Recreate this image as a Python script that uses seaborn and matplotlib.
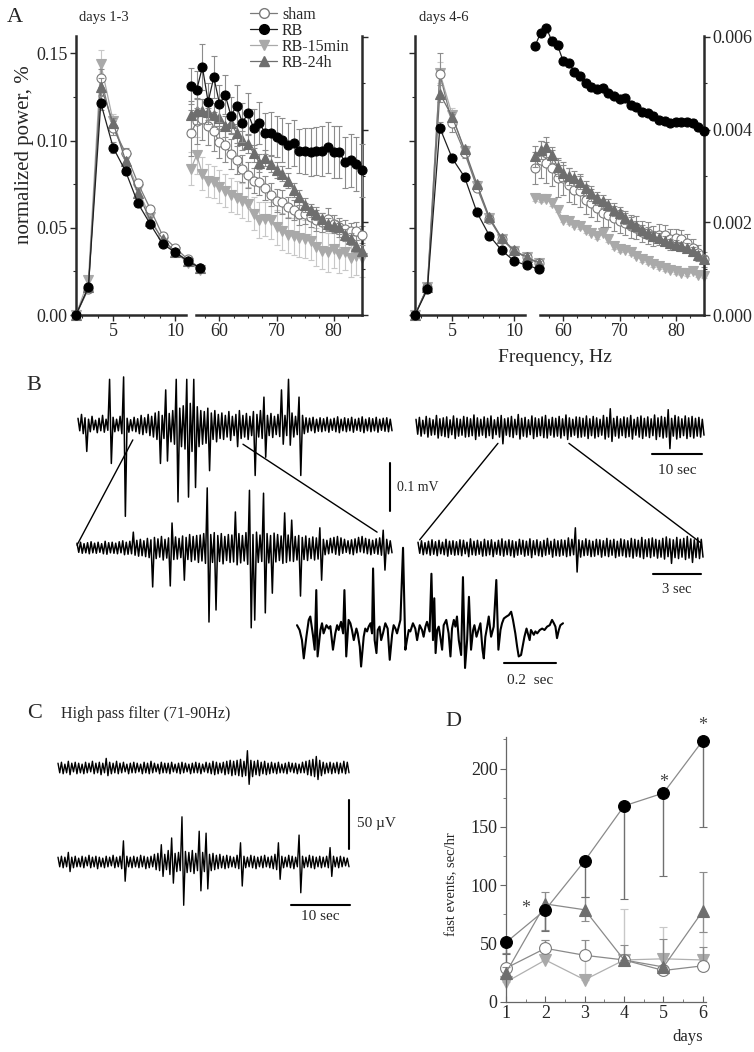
import numpy as np
import matplotlib.pyplot as plt
import seaborn as sns
from matplotlib.lines import Line2D
from matplotlib.patches import ConnectionPatch
from matplotlib.ticker import FixedLocator, MultipleLocator, FormatStrFormatter

# ---- data -------------------------------------------------------------
freq_lo = [2, 3, 4, 5, 6, 7, 8, 9, 10, 11, 12]
freq_hi = list(range(55, 86))

# days 1-3, low frequencies (left axis)
d13_lo_sham = [0.000, 0.015, 0.136, 0.107, 0.093, 0.0755, 0.0607, 0.0453, 0.0386, 0.032, 0.027]
d13_lo_rb = [0.000, 0.016, 0.1216, 0.096, 0.0824, 0.064, 0.052, 0.0406, 0.036, 0.031, 0.027]
d13_lo_rb15 = [0.000, 0.020, 0.144, 0.111, 0.090, 0.072, 0.056, 0.042, 0.036, 0.030, 0.026]
d13_lo_rb24 = [0.000, 0.016, 0.131, 0.110, 0.0886, 0.070, 0.054, 0.0434, 0.0363, 0.031, 0.027]
d13_lo_err_sham = [0, 0.002, 0.005, 0.004, 0.003, 0.002, 0.002, 0.002, 0.001, 0.001, 0.001]
d13_lo_err_rb = [0, 0.002, 0.004, 0.003, 0.002, 0.002, 0.002, 0.001, 0.001, 0.001, 0.001]
d13_lo_err_rb15 = [0, 0.002, 0.008, 0.004, 0.003, 0.002, 0.002, 0.002, 0.001, 0.001, 0.001]
d13_lo_err_rb24 = [0, 0.002, 0.005, 0.003, 0.002, 0.002, 0.002, 0.001, 0.001, 0.001, 0.001]

# days 1-3, high frequencies (right axis)
d13_hi_sham = [0.00392, 0.00418, 0.00422, 0.00407, 0.00396, 0.00373, 0.00366, 0.00347, 0.00334, 0.00316,
               0.00302, 0.00290, 0.00287, 0.00275, 0.00260, 0.00247, 0.00244, 0.00232, 0.00226, 0.00219,
               0.00219, 0.00211, 0.00204, 0.00200, 0.00207, 0.00196, 0.00189, 0.00185, 0.00181, 0.00181, 0.00173]
d13_hi_rb = [0.00494, 0.00486, 0.00535, 0.00460, 0.00513, 0.00456, 0.00475, 0.00430, 0.00452, 0.00415,
             0.00435, 0.00403, 0.00415, 0.00392, 0.00392, 0.00385, 0.00377, 0.00366, 0.00371, 0.00354,
             0.00354, 0.00352, 0.00354, 0.00354, 0.00362, 0.00352, 0.00352, 0.00330, 0.00334, 0.00325, 0.00312]
d13_hi_rb15 = [0.00316, 0.00345, 0.00305, 0.00290, 0.00287, 0.00277, 0.00268, 0.00259, 0.00253, 0.00247,
               0.00240, 0.00219, 0.00205, 0.00207, 0.00204, 0.00189, 0.00181, 0.00173, 0.00170, 0.00166,
               0.00164, 0.00160, 0.00146, 0.00139, 0.00135, 0.00142, 0.00132, 0.00137, 0.00124, 0.00128, 0.00122]
d13_hi_rb24 = [0.00432, 0.00441, 0.00441, 0.00437, 0.00432, 0.00426, 0.00407, 0.00415, 0.00392, 0.00377,
               0.00369, 0.00349, 0.00328, 0.00339, 0.00326, 0.00313, 0.00305, 0.00290, 0.00270, 0.00254,
               0.00238, 0.00226, 0.00219, 0.00207, 0.00196, 0.00192, 0.00189, 0.00173, 0.00164, 0.00149, 0.00139]
d13_hi_err_sham = [0.00050, 0.00048, 0.00045, 0.00040, 0.00042, 0.00035, 0.00036, 0.00033, 0.00030, 0.00030,
                   0.00028, 0.00027, 0.00028, 0.00026, 0.00025, 0.00024, 0.00025, 0.00023, 0.00022, 0.00024,
                   0.00022, 0.00021, 0.00022, 0.00020, 0.00024, 0.00020, 0.00020, 0.00019, 0.00018, 0.00019, 0.00018]
d13_hi_err_rb = [0.00038, 0.00040, 0.00050, 0.00040, 0.00045, 0.00040, 0.00042, 0.00040, 0.00045, 0.00042,
                 0.00045, 0.00042, 0.00045, 0.00044, 0.00046, 0.00045, 0.00047, 0.00048, 0.00050, 0.00048,
                 0.00050, 0.00052, 0.00052, 0.00054, 0.00055, 0.00056, 0.00056, 0.00055, 0.00057, 0.00058, 0.00058]
d13_hi_err_rb15 = [0.00036, 0.00040, 0.00035, 0.00036, 0.00034, 0.00035, 0.00036, 0.00037, 0.00036, 0.00038,
                   0.00037, 0.00036, 0.00038, 0.00037, 0.00039, 0.00038, 0.00040, 0.00039, 0.00040, 0.00041,
                   0.00040, 0.00042, 0.00041, 0.00040, 0.00042, 0.00041, 0.00042, 0.00040, 0.00041, 0.00042, 0.00040]
d13_hi_err_rb24 = [0.00030, 0.00028, 0.00026, 0.00025, 0.00025, 0.00024, 0.00022, 0.00023, 0.00021, 0.00020,
                   0.00020, 0.00018, 0.00019, 0.00017, 0.00018, 0.00017, 0.00016, 0.00016, 0.00015, 0.00016,
                   0.00015, 0.00014, 0.00015, 0.00014, 0.00014, 0.00013, 0.00014, 0.00013, 0.00013, 0.00012, 0.00012]

# days 4-6, low frequencies
d46_lo_sham = [0.000, 0.016, 0.138, 0.110, 0.093, 0.073, 0.055, 0.0435, 0.0366, 0.033, 0.0297]
d46_lo_rb = [0.000, 0.0147, 0.1074, 0.0899, 0.0791, 0.0588, 0.0455, 0.037, 0.031, 0.0285, 0.0264]
d46_lo_rb15 = [0.000, 0.016, 0.139, 0.1147, 0.094, 0.074, 0.0555, 0.0437, 0.0368, 0.033, 0.0297]
d46_lo_rb24 = [0.000, 0.016, 0.127, 0.1137, 0.095, 0.075, 0.056, 0.044, 0.037, 0.0332, 0.0298]
d46_lo_err_sham = [0, 0.002, 0.012, 0.005, 0.003, 0.002, 0.002, 0.002, 0.001, 0.001, 0.001]
d46_lo_err_rb = [0, 0.001, 0.003, 0.002, 0.002, 0.001, 0.001, 0.001, 0.001, 0.001, 0.001]
d46_lo_err_rb15 = [0, 0.002, 0.006, 0.004, 0.003, 0.002, 0.002, 0.001, 0.001, 0.001, 0.001]
d46_lo_err_rb24 = [0, 0.002, 0.005, 0.003, 0.002, 0.002, 0.001, 0.001, 0.001, 0.001, 0.001]

# days 4-6, high frequencies
d46_hi_sham = [0.00317, 0.00335, 0.00329, 0.00317, 0.00295, 0.00295, 0.00281, 0.00270, 0.00267, 0.00249,
               0.00241, 0.00231, 0.00220, 0.00216, 0.00209, 0.00202, 0.00198, 0.00191, 0.00188, 0.00180,
               0.00177, 0.00170, 0.00173, 0.00173, 0.00163, 0.00166, 0.00163, 0.00155, 0.00145, 0.00134, 0.00120]
d46_hi_rb = [0.00580, 0.00609, 0.00620, 0.00591, 0.00582, 0.00548, 0.00543, 0.00525, 0.00515, 0.00500,
             0.00492, 0.00487, 0.00489, 0.00478, 0.00472, 0.00467, 0.00469, 0.00453, 0.00449, 0.00439,
             0.00435, 0.00429, 0.00421, 0.00419, 0.00414, 0.00417, 0.00417, 0.00417, 0.00414, 0.00405, 0.00396]
d46_hi_rb15 = [0.00252, 0.00250, 0.00250, 0.00241, 0.00227, 0.00206, 0.00202, 0.00195, 0.00191, 0.00184,
               0.00177, 0.00170, 0.00177, 0.00163, 0.00148, 0.00143, 0.00141, 0.00135, 0.00127, 0.00120,
               0.00116, 0.00109, 0.00105, 0.00102, 0.00098, 0.00095, 0.00091, 0.00091, 0.00095, 0.00087, 0.00084]
d46_hi_rb24 = [0.00342, 0.00356, 0.00363, 0.00345, 0.00320, 0.00306, 0.00299, 0.00295, 0.00288, 0.00274,
               0.00263, 0.00252, 0.00245, 0.00238, 0.00227, 0.00220, 0.00209, 0.00198, 0.00191, 0.00184,
               0.00177, 0.00170, 0.00166, 0.00159, 0.00155, 0.00152, 0.00148, 0.00145, 0.00138, 0.00130, 0.00120]
d46_hi_err_sham = [0.00035, 0.00040, 0.00045, 0.00038, 0.00040, 0.00035, 0.00037, 0.00030, 0.00034, 0.00032,
                   0.00030, 0.00028, 0.00030, 0.00026, 0.00027, 0.00025, 0.00026, 0.00024, 0.00025, 0.00023,
                   0.00024, 0.00022, 0.00023, 0.00021, 0.00022, 0.00020, 0.00020, 0.00019, 0.00018, 0.00017, 0.00016]
d46_hi_err_rb = [0.00006, 0.00007, 0.00006, 0.00009, 0.00008, 0.00007, 0.00008, 0.00007, 0.00008, 0.00007,
                 0.00008, 0.00007, 0.00008, 0.00008, 0.00007, 0.00008, 0.00007, 0.00008, 0.00007, 0.00008,
                 0.00007, 0.00008, 0.00007, 0.00008, 0.00007, 0.00008, 0.00008, 0.00007, 0.00008, 0.00007, 0.00007]
d46_hi_err_rb15 = [0.00005, 0.00006, 0.00005, 0.00006, 0.00005, 0.00006, 0.00005, 0.00006, 0.00005, 0.00006,
                   0.00005, 0.00006, 0.00005, 0.00006, 0.00005, 0.00006, 0.00005, 0.00006, 0.00005, 0.00006,
                   0.00005, 0.00006, 0.00005, 0.00006, 0.00005, 0.00006, 0.00005, 0.00006, 0.00005, 0.00006, 0.00005]
d46_hi_err_rb24 = [0.00022, 0.00020, 0.00022, 0.00018, 0.00019, 0.00017, 0.00018, 0.00016, 0.00017, 0.00015,
                   0.00016, 0.00014, 0.00015, 0.00013, 0.00014, 0.00013, 0.00012, 0.00013, 0.00012, 0.00011,
                   0.00012, 0.00011, 0.00010, 0.00011, 0.00010, 0.00010, 0.00009, 0.00010, 0.00009, 0.00009, 0.00008]

# panel D: fast events, sec/hr
days = [1, 2, 3, 4, 5, 6]
fe_sham = [29, 46, 40, 36, 27, 31]
fe_rb = [51, 79, 121, 168, 179, 224]
fe_rb15 = [17, 36, 19, 36, 37, 36]
fe_rb24 = [25, 84, 79, 36, 30, 78]
fe_err_sham = [[0, 0, 0, 0, 0, 0], [13, 7, 13, 4, 4, 16]]
fe_err_rb = [[10, 18, 31, 80, 71, 74], [0, 0, 0, 0, 0, 0]]
fe_err_rb15 = [[0, 0, 0, 0, 0, 0], [6, 17, 20, 44, 27, 24]]
fe_err_rb24 = [[5, 22, 10, 0, 0, 18], [5, 10, 11, 13, 24, 33]]
stars = [(1.5, 80), (5, 188), (6, 237)]

# EEG traces, µV: upper / lower excursions of consecutive samples
b_top_left_hi = [14, 22, 15, 12, 18, 10, 14, 20, 12, 95, 16, 12, 18, 100, 14, 11, 16, 13, 20, 15,
                 22, 18, 25, 28, 20, 73, 24, 30, 95, 35, 40, 95, 45, 95, 38, 30, 28, 35, 25, 30,
                 22, 25, 20, 28, 18, 22, 30, 20, 24, 18, 28, 22, 30, 58, 20, 24, 18, 22, 73, 20,
                 95, 25, 18, 58, 20, 15, 14, 16, 12, 15, 13, 16, 12, 14, 17, 12, 15, 13, 16, 12,
                 14, 17, 12, 15, 13, 16, 12, 14, 15, 12]
b_top_left_lo = [-12, -18, -55, -14, -10, -16, -12, -15, -11, -80, -14, -12, -18, -190, -15, -12, -14, -18, -20, -16,
                 -22, -25, -30, -80, -28, -75, -35, -40, -160, -45, -50, -150, -55, -130, -45, -40, -38, -95, -30, -35,
                 -28, -30, -25, -32, -22, -45, -28, -25, -30, -22, -105, -25, -28, -67, -22, -26, -20, -24, -40, -22,
                 -42, -25, -20, -105, -18, -15, -12, -16, -13, -14, -12, -15, -11, -14, -16, -12, -14, -12, -15, -11,
                 -13, -16, -12, -14, -12, -15, -11, -13, -14, -12]
b_top_right_hi = [16, 20, 14, 22, 18, 15, 24, 17, 19, 21, 15, 23, 18, 16, 22, 20, 17, 25, 19, 16,
                  21, 18, 23, 15, 20, 24, 17, 19, 22, 16, 26, 18, 20, 15, 23, 19, 17, 21, 24, 16,
                  20, 18, 22, 17, 25, 19, 16, 21, 20, 18, 23, 17, 22, 19, 16, 24, 20, 38, 18, 22,
                  17, 21, 19, 24, 16, 20, 23, 18, 21, 17, 25, 19, 22, 20, 36, 18, 24, 21, 17, 23,
                  19, 22, 18, 20, 16]
b_top_right_lo = [-15, -19, -14, -21, -17, -16, -23, -18, -20, -22, -16, -24, -19, -17, -21, -20, -18, -26, -19, -17,
                  -22, -18, -24, -16, -21, -35, -17, -20, -22, -16, -25, -19, -21, -16, -24, -20, -18, -22, -23, -17,
                  -21, -19, -23, -18, -26, -20, -17, -22, -21, -19, -24, -18, -23, -20, -17, -25, -21, -30, -19, -23,
                  -18, -22, -20, -25, -17, -21, -24, -19, -22, -18, -26, -20, -23, -21, -45, -19, -25, -22, -18, -24,
                  -20, -23, -19, -21, -17]
b_mid_left_hi = [10, 12, 9, 11, 13, 10, 12, 9, 14, 11, 12, 10, 13, 15, 12, 14, 33, 16, 18, 15,
                 20, 17, 22, 19, 24, 18, 21, 52, 23, 20, 25, 22, 28, 24, 26, 27, 30, 125, 28, 32,
                 26, 30, 24, 28, 27, 75, 30, 26, 32, 120, 28, 33, 27, 114, 30, 26, 31, 28, 25, 73,
                 27, 58, 24, 26, 22, 25, 20, 23, 21, 42, 18, 16, 20, 22, 24, 21, 18, 15, 17, 19,
                 22, 24, 20, 18, 16, 19, 21, 37, 18, 15]
b_mid_left_lo = [-9, -11, -10, -12, -10, -11, -9, -12, -13, -10, -11, -12, -10, -14, -13, -12, -15, -17, -16, -18,
                 -20, -81, -22, -19, -25, -21, -79, -24, -23, -20, -67, -24, -28, -25, -30, -27, -32, -154, -30, -129,
                 -28, -33, -26, -30, -29, -35, -31, -27, -34, -166, -150, -30, -28, -135, -31, -94, -29, -26, -32, -30,
                 -27, -28, -25, -100, -24, -26, -22, -25, -23, -67, -14, -12, -10, -13, -15, -11, -9, -12, -14, -10,
                 -8, -10, -12, -14, -11, -13, -15, -46, -12, -10]
b_mid_right_hi = [12, 15, 11, 14, 17, 13, 16, 12, 18, 14, 15, 13, 17, 16, 12, 19, 14, 16, 13, 18,
                  15, 17, 12, 16, 19, 14, 17, 15, 13, 18, 16, 14, 19, 15, 17, 13, 16, 20, 14, 18,
                  15, 17, 16, 21, 18, 42, 17, 15, 19, 16, 14, 18, 17, 15, 20, 16, 18, 14, 19, 17,
                  15, 20, 18, 16, 22, 17, 19, 21, 18, 16, 20, 23, 19, 17, 22, 18, 20, 24, 19, 17, 21, 18]
b_mid_right_lo = [-11, -14, -12, -15, -13, -16, -12, -14, -17, -13, -15, -14, -16, -12, -18, -14, -15, -13, -17, -16,
                  -14, -18, -13, -15, -17, -14, -16, -19, -15, -13, -17, -15, -20, -14, -16, -18, -15, -13, -19, -16,
                  -17, -15, -18, -16, -14, -50, -19, -16, -15, -18, -17, -14, -19, -16, -18, -15, -20, -17, -16, -19,
                  -18, -21, -17, -19, -22, -18, -20, -17, -21, -19, -23, -18, -32, -20, -22, -19, -24, -21, -30, -20, -22, -19]

# expanded burst (ms, µV)
burst_t = [0, 10, 19, 26, 36, 45, 51, 61, 68, 74, 79, 90, 96, 102, 113, 122, 128, 138, 147, 154,
           160, 169, 177, 182, 189, 198, 205, 211, 218, 228, 233, 241, 246, 256, 262, 269, 275, 282, 288, 292,
           298, 305, 310, 317, 323, 330, 339, 348, 356, 365, 371, 378, 384, 397, 407, 416, 422, 429, 435, 445,
           454, 461, 471, 480, 486, 493, 499, 509, 516, 522, 527, 532, 538, 544, 550, 557, 563, 573, 582, 589,
           595, 602, 608, 614, 621, 630, 637, 645, 653, 660, 668, 676, 681, 689, 698, 704, 712, 717, 723, 730,
           736, 745, 755, 765, 773, 781, 787, 794, 804, 813, 822, 829, 838, 845, 851, 860, 868, 873, 881, 886,
           893, 898, 909, 915, 922, 932, 941, 950, 960, 970, 979, 986, 992, 998, 1005, 1011, 1021]
burst_v = [10, 0, -21, -59, -14, 21, 28, -10, -41, 83, -55, 0, 14, -7, 10, 3, 8, -41, -7, 10,
           0, 17, -7, 83, -55, 21, 14, 0, -21, 3, -7, -35, -76, -14, 3, -3, 7, 14, -7, 128,
           -21, -48, 0, 7, -21, -7, 14, 3, -62, -10, 10, 3, -7, 21, 171, -41, -21, 0, -3, 14,
           3, -21, 10, 0, -14, 7, 17, -3, 117, -21, 66, -48, 0, 7, -14, -41, 10, 21, -7, -55,
           3, 21, 7, 28, -21, -52, 110, -79, -21, 69, -41, 0, 10, -14, 3, 14, -41, -59, -14, 7,
           28, -14, 7, 104, -41, 0, 14, 24, 28, 31, 38, 21, -7, -35, -55, -52, -28, -14, 3, -7,
           -21, 0, -10, -3, -7, 0, 3, 0, 7, 10, 21, 14, 7, -17, 0, 10, 14]

c_top_hi = [5, 6, 4, 7, 5, 6, 5, 4, 6, 5, 7, 5, 6, 5, 10, 6, 5, 7, 5, 6,
            4, 5, 6, 5, 4, 6, 5, 7, 5, 4, 6, 5, 5, 6, 4, 5, 6, 5, 4, 5,
            6, 5, 4, 6, 5, 7, 6, 5, 6, 7, 8, 7, 8, 9, 7, 18, 8, 7, 8, 6,
            7, 5, 6, 5, 6, 4, 5, 6, 5, 5, 4, 6, 7, 8, 9, 12, 8, 6, 5, 6,
            5, 6, 5, 7, 6]
c_top_lo = [-5, -6, -5, -7, -4, -6, -5, -6, -5, -4, -6, -5, -7, -5, -8, -6, -5, -6, -5, -4,
            -6, -5, -5, -4, -6, -5, -6, -5, -4, -6, -5, -5, -6, -4, -5, -6, -5, -4, -6, -5,
            -5, -6, -4, -5, -6, -7, -6, -5, -7, -6, -8, -7, -8, -9, -8, -17, -9, -7, -8, -6,
            -7, -6, -5, -6, -5, -5, -6, -4, -5, -6, -5, -5, -7, -8, -9, -12, -8, -6, -5, -6,
            -5, -6, -5, -6, -5]
c_bot_hi = [5, 6, 5, 10, 5, 6, 4, 6, 5, 7, 5, 6, 5, 4, 6, 5, 7, 5, 6, 22,
            6, 5, 6, 5, 7, 6, 5, 6, 8, 9, 18, 8, 12, 25, 9, 10, 47, 11, 10, 12,
            9, 32, 10, 30, 8, 9, 7, 8, 6, 7, 6, 5, 7, 20, 6, 5, 7, 6, 5, 6,
            7, 5, 6, 8, 20, 6, 5, 7, 6, 5, 28, 6, 5, 7, 6, 5, 6, 5, 6, 15,
            6, 5, 6, 5, 4]
c_bot_lo = [-5, -6, -5, -10, -6, -5, -5, -6, -4, -6, -5, -7, -5, -6, -5, -4, -6, -5, -7, -20,
            -5, -6, -5, -6, -5, -7, -6, -5, -8, -9, -15, -8, -13, -22, -10, -9, -45, -11, -10, -12,
            -9, -30, -10, -28, -9, -8, -7, -6, -7, -6, -5, -6, -7, -25, -6, -5, -6, -7, -5, -6,
            -5, -6, -7, -8, -18, -6, -5, -6, -7, -5, -32, -6, -5, -6, -7, -5, -6, -5, -6, -15,
            -5, -6, -5, -4, -5]

# ---- style ------------------------------------------------------------
sns.set_style("ticks")
plt.rcParams['font.family'] = ['Liberation Serif', 'DejaVu Serif']

W, H = 754, 1052
fig = plt.figure(figsize=(W / 100, H / 100), dpi=100)


def box(x0, y0, x1, y1):
    return [x0 / W, 1 - y1 / H, (x1 - x0) / W, (y1 - y0) / H]


def ftext(x, y, s, **kw):
    kw.setdefault('ha', 'center')
    kw.setdefault('va', 'center')
    fig.text(x / W, 1 - y / H, s, **kw)


styles = {
    'sham': dict(marker='o', face='white', edge='#7a7a7a', line='#7a7a7a', ecolor='#8c8c8c', z=3),
    'RB': dict(marker='o', face='black', edge='black', line='#202020', ecolor='#8c8c8c', z=5),
    'RB-15min': dict(marker='v', face='#a9a9a9', edge='#a9a9a9', line='#a9a9a9', ecolor='#c8c8c8', z=2),
    'RB-24h': dict(marker='^', face='#6e6e6e', edge='#6e6e6e', line='#6e6e6e', ecolor='#8c8c8c', z=4),
}


def draw_series(ax, x, y, err, key, ms=6.5, lw=0.9):
    st = styles[key]
    ax.errorbar(x, y, yerr=err, fmt='none', ecolor=st['ecolor'], elinewidth=0.8,
                capsize=2.5, capthick=0.8, zorder=st['z'] - 0.5, clip_on=False)
    sns.lineplot(x=x, y=y, ax=ax, estimator=None, sort=False, color=st['line'], linewidth=lw,
                 marker=st['marker'], markersize=ms, markerfacecolor=st['face'],
                 markeredgecolor=st['edge'], markeredgewidth=0.8, clip_on=False, zorder=st['z'])


def style_a(ax, side):
    ax.set_facecolor('none')
    for s in ['top', 'left', 'right']:
        ax.spines[s].set_visible(False)
    ax.spines[side].set_visible(True)
    for s in ['bottom', side]:
        ax.spines[s].set_linewidth(1.8)
        ax.spines[s].set_color('#2a2a2a')
    ax.tick_params(which='major', length=4, width=1, labelsize=13, color='#2a2a2a', pad=2)
    ax.tick_params(which='minor', length=2.5, width=0.8, color='#2a2a2a')
    ax.set_xlabel('')
    ax.set_ylabel('')


# ---- panel A ----------------------------------------------------------
panels = [
    (76, 191, 362, True,
     [d13_lo_rb15, d13_lo_sham, d13_lo_rb24, d13_lo_rb],
     [d13_lo_err_rb15, d13_lo_err_sham, d13_lo_err_rb24, d13_lo_err_rb],
     [d13_hi_rb15, d13_hi_sham, d13_hi_rb24, d13_hi_rb],
     [d13_hi_err_rb15, d13_hi_err_sham, d13_hi_err_rb24, d13_hi_err_rb]),
    (415, 535, 704, False,
     [d46_lo_rb15, d46_lo_sham, d46_lo_rb24, d46_lo_rb],
     [d46_lo_err_rb15, d46_lo_err_sham, d46_lo_err_rb24, d46_lo_err_rb],
     [d46_hi_rb15, d46_hi_sham, d46_hi_rb24, d46_hi_rb],
     [d46_hi_err_rb15, d46_hi_err_sham, d46_hi_err_rb24, d46_hi_err_rb]),
]
order = ['RB-15min', 'sham', 'RB-24h', 'RB']

for x0, xh, x1, left_labels, lo_vals, lo_errs, hi_vals, hi_errs in panels:
    ax_lo = fig.add_axes(box(x0, 36, x0 + 124, 315))
    ax_hi = fig.add_axes(box(xh, 36, x1, 315))
    for key, v, e in zip(order, lo_vals, lo_errs):
        draw_series(ax_lo, freq_lo, v, e, key)
    for key, v, e in zip(order, hi_vals, hi_errs):
        draw_series(ax_hi, freq_hi, v, e, key)

    ax_lo.set_xlim(2, 12)
    ax_lo.set_ylim(0, 0.16)
    style_a(ax_lo, 'left')
    ax_lo.spines['bottom'].set_bounds(2, 10.9)
    ax_lo.xaxis.set_major_locator(FixedLocator([5, 10]))
    ax_lo.xaxis.set_minor_locator(FixedLocator([2.5, 3.75, 6.25, 7.5, 8.75]))
    ax_lo.yaxis.set_major_locator(MultipleLocator(0.05))
    ax_lo.yaxis.set_minor_locator(MultipleLocator(0.025))
    ax_lo.yaxis.set_major_formatter(FormatStrFormatter('%.2f'))
    if not left_labels:
        ax_lo.tick_params(axis='y', labelleft=False)

    ax_hi.set_xlim(55, 85)
    ax_hi.set_ylim(0, 0.00602)
    style_a(ax_hi, 'right')
    ax_hi.spines['bottom'].set_bounds(55.8, 85)
    ax_hi.yaxis.tick_right()
    ax_hi.xaxis.set_major_locator(FixedLocator([60, 70, 80]))
    ax_hi.xaxis.set_minor_locator(FixedLocator([57.5, 62.5, 65, 67.5, 72.5, 75, 77.5, 82.5]))
    ax_hi.yaxis.set_major_locator(MultipleLocator(0.002))
    ax_hi.yaxis.set_minor_locator(MultipleLocator(0.001))
    ax_hi.yaxis.set_major_formatter(FormatStrFormatter('%.3f'))
    if left_labels:
        ax_hi.tick_params(axis='y', labelright=False)

ftext(15, 17, 'A', fontsize=16)
ftext(79, 18, 'days 1-3', fontsize=10.5, ha='left')
ftext(419, 18, 'days 4-6', fontsize=10.5, ha='left')
ftext(25, 155, 'normalized power, %', fontsize=15, rotation=90)
ftext(555, 358, 'Frequency, Hz', fontsize=14)

handles = [Line2D([], [], color=styles[k]['line'], lw=0.9, marker=styles[k]['marker'], markersize=7,
                  markerfacecolor=styles[k]['face'], markeredgecolor=styles[k]['edge'])
           for k in ['sham', 'RB', 'RB-15min', 'RB-24h']]
fig.legend(handles, ['sham', 'RB', 'RB-15min', 'RB-24h'], loc='upper left',
           bbox_to_anchor=(250 / W, 1 - 7 / H), frameon=False, fontsize=11.5,
           handlelength=1.7, handletextpad=0.3, labelspacing=0.0, borderpad=0, borderaxespad=0)


# ---- panels B and C: traces -------------------------------------------
def trace_ax(x0, x1, yc, t_end, uv_px, hi=None, lo=None, t=None, v=None, lw=1.1):
    ax = fig.add_axes(box(x0, yc - 50, x1, yc + 50))
    if hi is not None:
        v = [a for pair in zip(hi, lo) for a in pair]
        t = np.linspace(0, t_end, len(v))
    sns.lineplot(x=t, y=v, ax=ax, estimator=None, sort=False, color='black',
                 linewidth=lw, clip_on=False)
    ax.set_xlim(0, t_end)
    ax.set_ylim(-50 * uv_px, 50 * uv_px)
    ax.axis('off')
    return ax


ax_b1 = trace_ax(78, 392, 425, 63, 2.08, b_top_left_hi, b_top_left_lo)
ax_b2 = trace_ax(416, 704, 427, 58, 2.08, b_top_right_hi, b_top_right_lo)
ax_b3 = trace_ax(77, 392, 548, 19, 2.08, b_mid_left_hi, b_mid_left_lo)
ax_b4 = trace_ax(418, 703, 548, 17, 2.08, b_mid_right_hi, b_mid_right_lo)
ax_b5 = trace_ax(297, 563, 630, 1021, 2.08, t=burst_t, v=burst_v, lw=1.5)
ax_c1 = trace_ax(58, 349, 768, 49, 1.04, c_top_hi, c_top_lo, lw=1.0)
ax_c2 = trace_ax(58, 349, 862, 49, 1.04, c_bot_hi, c_bot_lo, lw=1.0)

# zoom connectors
for axA, pA, axB, pB in [(ax_b1, (11.0, -31), ax_b3, (0.0, 6)),
                         (ax_b1, (33.1, -40), ax_b3, (18.1, 33)),
                         (ax_b2, (16.5, -34), ax_b4, (0.1, 17)),
                         (ax_b2, (30.8, -34), ax_b4, (16.9, 10))]:
    fig.add_artist(ConnectionPatch(xyA=pA, coordsA='data', axesA=axA,
                                   xyB=pB, coordsB='data', axesB=axB, color='black', lw=1.0))

# scale bars
ax_b1.plot([62.6, 62.6], [-179, -79], color='black', lw=1.5, clip_on=False)
ax_b1.text(64.0, -129, '0.1 mV', fontsize=10, ha='left', va='center')
ax_b2.plot([47.5, 57.6], [-56, -56], color='black', lw=1.5, clip_on=False)
ax_b2.text(52.6, -90, '10 sec', fontsize=11, ha='center', va='center')
ax_b4.plot([14.0, 16.9], [-54, -54], color='black', lw=1.5, clip_on=False)
ax_b4.text(15.45, -87, '3 sec', fontsize=10.5, ha='center', va='center')
ax_b5.plot([796, 996], [-69, -69], color='black', lw=1.5, clip_on=False)
ax_b5.text(896, -104, '0.2  sec', fontsize=11, ha='center', va='center')
ax_c2.plot([49.0, 49.0], [14, 64], color='black', lw=1.5, clip_on=False)
ax_c2.text(50.4, 40, '50 µV', fontsize=11, ha='left', va='center')
ax_c2.plot([39.2, 49.1], [-45, -45], color='black', lw=1.5, clip_on=False)
ax_c2.text(44.2, -57, '10 sec', fontsize=11, ha='center', va='center')

ftext(34, 386, 'B', fontsize=16)
ftext(35, 714, 'C', fontsize=16)
ftext(61, 714, 'High pass filter (71-90Hz)', fontsize=11.5, ha='left')

# ---- panel D ----------------------------------------------------------
axD = fig.add_axes(box(506, 737, 706, 1002))
for key, v, e in [('RB-15min', fe_rb15, fe_err_rb15), ('sham', fe_sham, fe_err_sham),
                  ('RB-24h', fe_rb24, fe_err_rb24), ('RB', fe_rb, fe_err_rb)]:
    st = styles[key]
    axD.errorbar(days, v, yerr=e, fmt='none', ecolor=st['ecolor'] if key != 'RB' else '#707070',
                 elinewidth=1.0, capsize=3, capthick=0.8, zorder=st['z'] - 0.5, clip_on=False)
    sns.lineplot(x=days, y=v, ax=axD, estimator=None, sort=False,
                 color='#8a8a8a' if key != 'RB-15min' else '#b0b0b0', linewidth=0.9,
                 marker=st['marker'], markersize=8.5, markerfacecolor=st['face'],
                 markeredgecolor=st['edge'], markeredgewidth=0.8, clip_on=False, zorder=st['z'])
for x, y in stars:
    axD.text(x, y, '*', fontsize=13, color='#444444', ha='center', va='center', clip_on=False)

axD.set_xlim(1, 6.08)
axD.set_ylim(0, 227)
axD.set_xlabel('')
axD.set_ylabel('')
for s in ['top', 'right']:
    axD.spines[s].set_visible(False)
for s in ['left', 'bottom']:
    axD.spines[s].set_color('#666666')
    axD.spines[s].set_linewidth(0.9)
axD.xaxis.set_major_locator(FixedLocator(days))
axD.xaxis.set_minor_locator(MultipleLocator(0.5))
axD.yaxis.set_major_locator(MultipleLocator(50))
axD.yaxis.set_minor_locator(MultipleLocator(25))
axD.tick_params(axis='x', which='both', direction='in', color='#666666')
axD.tick_params(axis='y', which='both', direction='out', color='#666666')
axD.tick_params(which='major', length=4, labelsize=13, pad=2)
axD.tick_params(which='minor', length=2.5)

ftext(453, 722, 'D', fontsize=16)
ftext(452, 884, 'fast events, sec/hr', fontsize=10.5, rotation=90)
ftext(688, 1037, 'days', fontsize=12)

fig.savefig('out.png', dpi=100, facecolor='white')
